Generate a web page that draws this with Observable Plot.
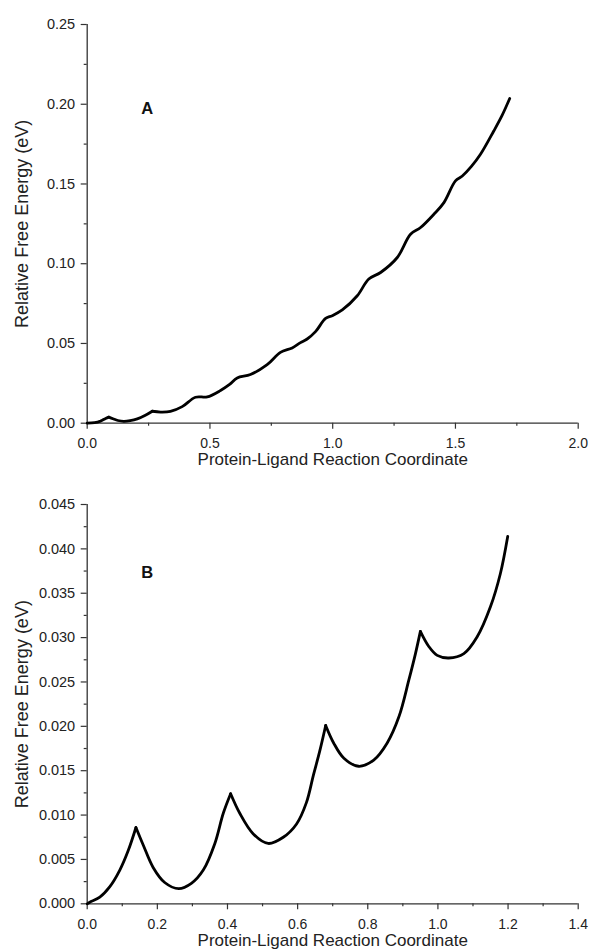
<!DOCTYPE html>
<html>
<head>
<meta charset="utf-8">
<script src="https://cdn.jsdelivr.net/npm/d3@7"></script>
<script src="https://cdn.jsdelivr.net/npm/@observablehq/plot@0.6"></script>
<style>
  html, body { margin: 0; padding: 0; background: #ffffff; }
  #chart { width: 590px; height: 952px; overflow: hidden; }
  #chart svg { display: block; overflow: visible; }
</style>
</head>
<body>
<div id="chart"></div>
<script>
// ---- Panel A data ----
const coordA = [0, 0.03, 0.054, 0.075, 0.088, 0.105, 0.125, 0.149, 0.175, 0.204, 0.235, 0.265, 0.299, 0.339, 0.387, 0.441, 0.489, 0.543, 0.58, 0.611, 0.665, 0.733, 0.787, 0.835, 0.869, 0.896, 0.930, 0.971, 0.998, 1.039, 1.100, 1.147, 1.195, 1.263, 1.317, 1.358, 1.412, 1.453, 1.500, 1.528, 1.565, 1.602, 1.656, 1.690, 1.721];
const energyA = [0, 0.0003, 0.0013, 0.003, 0.0038, 0.0028, 0.0017, 0.0012, 0.0016, 0.0027, 0.0048, 0.0075, 0.0070, 0.0074, 0.0104, 0.0163, 0.0165, 0.0205, 0.0243, 0.0284, 0.0305, 0.0367, 0.0444, 0.0472, 0.0505, 0.0528, 0.0574, 0.0657, 0.0674, 0.0710, 0.0799, 0.0904, 0.0945, 0.1039, 0.1185, 0.1227, 0.1310, 0.1383, 0.1519, 0.1550, 0.1610, 0.1686, 0.1832, 0.1930, 0.2036];
const xTicksA = [0, 0.5, 1.0, 1.5, 2.0];
const xMinorA = [0.25, 0.75, 1.25, 1.75];
const yTicksA = [0, 0.05, 0.10, 0.15, 0.20, 0.25];
const yMinorA = [0.025, 0.075, 0.125, 0.175, 0.225];

// ---- Panel B data ----
const coordB = [0, 0.0075, 0.036, 0.064, 0.093, 0.117, 0.139, 0.160, 0.188, 0.221, 0.261, 0.297, 0.331, 0.364, 0.388, 0.409, 0.435, 0.473, 0.516, 0.559, 0.597, 0.625, 0.645, 0.663, 0.680, 0.703, 0.732, 0.774, 0.817, 0.855, 0.889, 0.917, 0.936, 0.950, 0.974, 0.998, 1.031, 1.074, 1.112, 1.150, 1.178, 1.199];
const energyB = [0, 0.00018, 0.00075, 0.0019, 0.0038, 0.0060, 0.0086, 0.0066, 0.0041, 0.0024, 0.0017, 0.0023, 0.0038, 0.0068, 0.0102, 0.0124, 0.0102, 0.0079, 0.0068, 0.0075, 0.0090, 0.0114, 0.0145, 0.0172, 0.0201, 0.0181, 0.0164, 0.0155, 0.0162, 0.0181, 0.0211, 0.0252, 0.0282, 0.0307, 0.0290, 0.0280, 0.0277, 0.0282, 0.0301, 0.0335, 0.0372, 0.0414];
const xTicksB = [0, 0.2, 0.4, 0.6, 0.8, 1.0, 1.2, 1.4];
const xMinorB = [0.1, 0.3, 0.5, 0.7, 0.9, 1.1, 1.3];
const yTicksB = [0, 0.005, 0.010, 0.015, 0.020, 0.025, 0.030, 0.035, 0.040, 0.045];
const yMinorB = [0.0025, 0.0075, 0.0125, 0.0175, 0.0225, 0.0275, 0.0325, 0.0375, 0.0425];

const xLabel = "Protein-Ligand Reaction Coordinate";
const yLabel = "Relative Free Energy (eV)";

const FONT = "'Liberation Sans', Arial, Helvetica, sans-serif";
const AXIS = "#333333";
const TEXT = "#222222";

// Split the curve into smooth pieces at its local maxima (the cusps),
// the cusp point belonging to both neighbouring pieces.
function pieces(coord, energy) {
  const rows = [];
  let seg = 0;
  for (let i = 0; i < coord.length; i++) {
    rows.push({c: coord[i], e: energy[i], seg});
    const isPeak = i > 0 && i < coord.length - 1 && energy[i] > energy[i - 1] && energy[i] > energy[i + 1];
    if (isPeak) { seg++; rows.push({c: coord[i], e: energy[i], seg}); }
  }
  return rows;
}

function panel({coord, energy, xDomain, yDomain, xTicks, xMinor, yTicks, yMinor, xFmt, yFmt, tag, tagDy, height, marginBottom}) {
  const data = pieces(coord, energy);
  return Plot.plot({
    width: 590,
    height,
    marginLeft: 86.7,
    marginRight: 12.3,
    marginTop: 24,
    marginBottom,
    style: {fontFamily: FONT, fontSize: "14px", color: TEXT, background: "#ffffff", overflow: "visible"},
    x: {domain: xDomain, label: null},
    y: {domain: yDomain, label: null},
    marks: [
      Plot.axisX({ticks: xTicks, tickFormat: d3.format(xFmt), tickSize: 6, tickPadding: 9, stroke: AXIS, strokeWidth: 1.2, fill: TEXT, fontSize: 14, label: null}),
      Plot.axisX({ticks: xMinor, tickFormat: () => "", tickSize: 3, stroke: AXIS, strokeWidth: 1.2, label: null}),
      Plot.axisY({ticks: yTicks, tickFormat: d3.format(yFmt), tickSize: 6, tickPadding: 6, stroke: AXIS, strokeWidth: 1.2, fill: TEXT, fontSize: 14.5, label: null}),
      Plot.axisY({ticks: yMinor, tickFormat: () => "", tickSize: 3, stroke: AXIS, strokeWidth: 1.2, label: null}),
      Plot.ruleY([yDomain[0]], {stroke: AXIS, strokeWidth: 1.3}),
      Plot.ruleX([xDomain[0]], {stroke: AXIS, strokeWidth: 1.3}),
      Plot.line(data, {x: "c", y: "e", z: "seg", stroke: "#000000", strokeWidth: 2.8, curve: "catmull-rom", strokeLinejoin: "miter", strokeLinecap: "round"}),
      Plot.text([xLabel], {frameAnchor: "bottom", dy: 42, fontSize: 17, fill: TEXT}),
      Plot.text([yLabel], {frameAnchor: "left", textAnchor: "middle", rotate: -90, dx: -64.7, fontSize: 18, fill: TEXT}),
      Plot.text([tag], {frameAnchor: "top-left", dx: 54, dy: tagDy, fontSize: 16.5, fontWeight: "bold", fill: "#111111"})
    ]
  });
}

const chart = document.getElementById("chart");
chart.append(panel({
  coord: coordA, energy: energyA, xDomain: [0, 2], yDomain: [0, 0.25],
  xTicks: xTicksA, xMinor: xMinorA, yTicks: yTicksA, yMinor: yMinorA,
  xFmt: ".1f", yFmt: ".2f", tag: "A", tagDy: 77.7, height: 480, marginBottom: 57.3
}));
chart.append(panel({
  coord: coordB, energy: energyB, xDomain: [0, 1.4], yDomain: [0, 0.045],
  xTicks: xTicksB, xMinor: xMinorB, yTicks: yTicksB, yMinor: yMinorB,
  xFmt: ".1f", yFmt: ".3f", tag: "B", tagDy: 62, height: 472, marginBottom: 48.7
}));
</script>
</body>
</html>
